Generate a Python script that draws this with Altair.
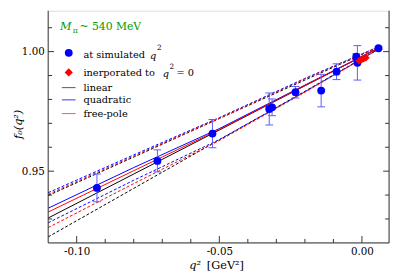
import altair as alt
import pandas as pd

# ---- data ----
q_sim = [-0.0929, -0.0717, -0.0524, -0.0325, -0.0315, -0.0233, -0.0143, -0.0089, -0.0020, -0.0016, 0.0058]
f_sim = [0.9430, 0.9543, 0.9657, 0.9760, 0.9767, 0.9830, 0.9837, 0.9916, 0.9979, 0.9953, 1.0014]
f_err = [0.0058, 0.0046, 0.0059, 0.0067, 0.0035, 0.0024, 0.0068, 0.0033, 0.0012, 0.0072, 0.0005]

q_int = [-0.0010, -0.0002, 0.0006, 0.0014]
f_int = [0.9962, 0.9966, 0.9970, 0.9974]

q_fit = [-0.11, -0.08, -0.05, -0.02, 0.006]
lin_c = [0.9304, 0.9488, 0.9672, 0.9857, 1.0016]
lin_u = [0.9398, 0.9559, 0.9720, 0.9881, 1.0020]
lin_l = [0.9225, 0.9428, 0.9631, 0.9834, 1.0012]
quad_c = [0.9345, 0.9515, 0.9678, 0.9860, 1.0016]
quad_u = [0.9410, 0.9568, 0.9724, 0.9888, 1.0021]
quad_l = [0.9284, 0.9462, 0.9632, 0.9832, 1.0011]
pole_c = [0.9329, 0.9502, 0.9674, 0.9858, 1.0016]
pole_u = [0.9403, 0.9563, 0.9721, 0.9886, 1.0021]
pole_l = [0.9264, 0.9448, 0.9628, 0.9830, 1.0011]

fit_names = ["linear", "quadratic", "free-pole"]
fit_colors = ["#000000", "#0000ff", "#ff0000"]

x_ticks_major = [-0.10, -0.05, 0.00]
x_ticks_minor = [-0.09, -0.08, -0.07, -0.06, -0.04, -0.03, -0.02, -0.01]
y_ticks_major = [0.95, 1.00]
y_ticks_minor = [0.93, 0.94, 0.96, 0.97, 0.98, 0.99, 1.01]

XDOM = [-0.11, 0.0095]
YDOM = [0.92, 1.0171]
W, H = 348, 237
FONT = "DejaVu Serif"
GREEN = "#009a00"
EBLUE = "#5a5aff"
FRAME = "#333333"

# ---- tables ----
sim = pd.DataFrame({"q": q_sim, "f": f_sim,
                    "lo": [f - e for f, e in zip(f_sim, f_err)],
                    "hi": [f + e for f, e in zip(f_sim, f_err)]})
inter = pd.DataFrame({"q": q_int, "f": f_int})

rows = []
for name, c, u, l in [("linear", lin_c, lin_u, lin_l),
                      ("quadratic", quad_c, quad_u, quad_l),
                      ("free-pole", pole_c, pole_u, pole_l)]:
    for band, vals in [("c", c), ("u", u), ("l", l)]:
        for q, f in zip(q_fit, vals):
            rows.append({"q": q, "f": f, "fit": name, "band": band, "key": name + band})
fits = pd.DataFrame(rows)

xs = alt.Scale(domain=XDOM, nice=False, zero=False)
ys = alt.Scale(domain=YDOM, nice=False, zero=False)
xaxis = alt.Axis(values=x_ticks_major, labelExpr="replace(format(datum.value, '.2f'), '\u2212', '-')",
                 ticks=False, domain=False, grid=False, title=None, labelFont=FONT,
                 labelFontSize=10.5, labelColor="#000000", labelPadding=4)
yaxis = alt.Axis(values=y_ticks_major, format=".2f", ticks=False, domain=False, grid=False,
                 title=None, labelFont=FONT, labelFontSize=10.5, labelColor="#000000", labelPadding=4)
X = lambda f: alt.X(f, type="quantitative", scale=xs, axis=xaxis)
Y = lambda f: alt.Y(f, type="quantitative", scale=ys, axis=yaxis)
col = alt.Color("fit:N", scale=alt.Scale(domain=fit_names, range=fit_colors), legend=None)

solid = alt.Chart(fits).transform_filter("datum.band == 'c'").mark_line(strokeWidth=1).encode(
    x=X("q"), y=Y("f"), color=col, detail="key:N")
dashed = alt.Chart(fits).transform_filter("datum.band != 'c'").mark_line(
    strokeWidth=1, strokeDash=[3, 2]).encode(x=X("q"), y=Y("f"), color=col, detail="key:N")

ebar = alt.Chart(sim).mark_rule(color=EBLUE, strokeWidth=1).encode(x=X("q"), y=Y("lo"), y2="hi")
cap_hi = alt.Chart(sim).mark_rule(color=EBLUE, strokeWidth=1, xOffset=-4, x2Offset=4).encode(
    x=X("q"), x2="q", y=Y("hi"))
cap_lo = alt.Chart(sim).mark_rule(color=EBLUE, strokeWidth=1, xOffset=-4, x2Offset=4).encode(
    x=X("q"), x2="q", y=Y("lo"))
pts = alt.Chart(sim).mark_circle(size=64, color="#0000ff", opacity=1).encode(x=X("q"), y=Y("f"))
dia = alt.Chart(inter).mark_point(shape="diamond", filled=True, size=60, color="#ff0000",
                                  opacity=1).encode(x=X("q"), y=Y("f"))

one = pd.DataFrame({"a": [0]})

# frame (top is cropped in the reference)
frame = [
    alt.Chart(one).mark_rule(color=FRAME, strokeWidth=1).encode(x=alt.value(0), y=alt.value(0), y2=alt.value(H)),
    alt.Chart(one).mark_rule(color=FRAME, strokeWidth=1).encode(x=alt.value(W), y=alt.value(0), y2=alt.value(H)),
    alt.Chart(one).mark_rule(color=FRAME, strokeWidth=1).encode(x=alt.value(0), x2=alt.value(W), y=alt.value(H)),
]

def xticks(vals, ln):
    d = pd.DataFrame({"t": vals})
    return alt.Chart(d).mark_rule(color=FRAME, strokeWidth=1).encode(
        x=X("t"), y=alt.value(H), y2=alt.value(H - ln))

def yticks(vals, ln):
    d = pd.DataFrame({"t": vals})
    left = alt.Chart(d).mark_rule(color=FRAME, strokeWidth=1).encode(
        y=Y("t"), x=alt.value(0), x2=alt.value(ln))
    right = alt.Chart(d).mark_rule(color=FRAME, strokeWidth=1).encode(
        y=Y("t"), x=alt.value(W), x2=alt.value(W - ln))
    return [left, right]

ticks = [xticks(x_ticks_major, 7), xticks(x_ticks_minor, 4)] + yticks(y_ticks_major, 6) + yticks(y_ticks_minor, 4)

def txt(s, x, y, size=11, color="#000000", style="normal", align="left", angle=0, baseline="middle"):
    return alt.Chart(one).mark_text(text=s, font=FONT, fontSize=size, color=color, fontStyle=style,
                                    align=align, baseline=baseline, angle=angle).encode(
        x=alt.value(x), y=alt.value(y))

texts = [
    txt("M", 12, 17, 11.5, GREEN, "italic"),
    txt("\u03c0", 25, 21, 8, GREEN),
    txt("~ 540 MeV", 32, 16.5, 11, GREEN),
    txt("at simulated", 36, 45, 10),
    txt("q", 104, 46, 10, style="italic"),
    txt("2", 111, 38, 7.5),
    txt("inerporated to", 36, 64, 10),
    txt("q", 117, 65, 10, style="italic"),
    txt("2", 124, 57, 7.5),
    txt("= 0", 131, 64, 10),
    txt("linear", 36, 79, 10),
    txt("quadratic", 36, 91, 10),
    txt("free-pole", 36, 105, 10),
    # x title
    txt("q\u00b2", 156, 261, 11.5, style="italic", align="right"),
    txt("[GeV\u00b2]", 162, 261, 11.5),
    # y title
    txt("f\u2080(q\u00b2)", -30, 116, 11.5, style="italic", align="center", angle=270),
]

legend_marks = [
    alt.Chart(one).mark_circle(size=64, color="#0000ff", opacity=1).encode(x=alt.value(21), y=alt.value(43)),
    alt.Chart(one).mark_point(shape="diamond", filled=True, size=70, color="#ff0000", opacity=1).encode(
        x=alt.value(21), y=alt.value(63)),
    alt.Chart(one).mark_rule(color="#555555", strokeWidth=1).encode(x=alt.value(14), x2=alt.value(28), y=alt.value(78.5)),
    alt.Chart(one).mark_rule(color="#3333ff", strokeWidth=1).encode(x=alt.value(14), x2=alt.value(28), y=alt.value(91)),
    alt.Chart(one).mark_rule(color="#ff5555", strokeWidth=1).encode(x=alt.value(14), x2=alt.value(28), y=alt.value(105)),
]

chart = alt.layer(
    dashed, solid, ebar, cap_hi, cap_lo, pts, dia, *frame, *ticks, *legend_marks, *texts
).properties(
    width=W, height=H,
    autosize=alt.AutoSizeParams(type="none"),
    padding={"left": 41, "top": 0, "right": 2, "bottom": 30},
).configure_view(stroke=None).configure(background="#ffffff")

chart.save("out.html", embed_options={"renderer": "svg", "actions": False})
